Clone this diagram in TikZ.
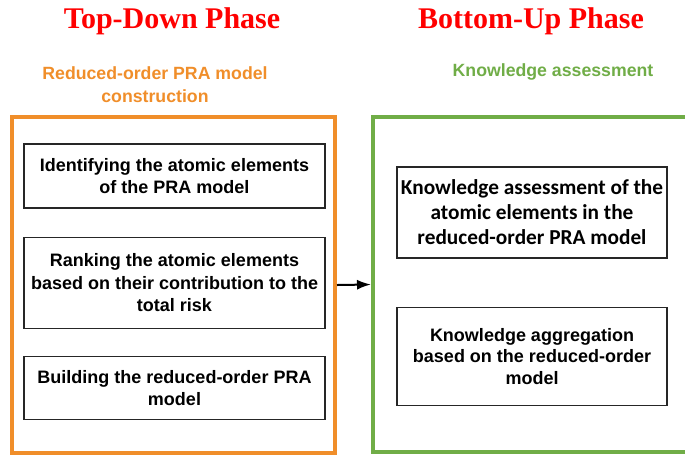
\documentclass[tikz,border=0pt]{standalone}
\usepackage{fontspec}
\setmainfont{Liberation Serif}
\setsansfont{Liberation Sans}
\newfontfamily\calibrifont{Carlito}
\usetikzlibrary{arrows,arrows.meta,positioning,shapes,fit}
\definecolor{phasered}{RGB}{255,0,0}
\definecolor{tdorange}{RGB}{240,142,42}
\definecolor{bugreen}{RGB}{112,173,71}

\begin{document}
\begin{tikzpicture}[x=1pt, y=-1pt,
	phase/.style={font=\fontsize{30}{35}\selectfont\bfseries, text=phasered},
	heading/.style={font=\fontsize{17.7}{23}\selectfont\bfseries\sffamily, align=center},
	frame/.style={draw, line width=4pt, inner sep=0pt},
	task/.style={draw=black!85, line width=1.3pt, align=center, inner sep=0pt,
		font=\fontsize{18}{22.5}\selectfont\bfseries\sffamily}]
						\useasboundingbox (0,0) rectangle (685,456);

						\node[phase] (td) at (172,21) {Top-Down Phase};
						\node[phase] (bu) at (531,21) {Bottom-Up Phase};
						\node[heading, text=tdorange] (tdhead) at (155,85) {Reduced-order PRA model\\construction};
						\node[heading, text=bugreen] (buhead) at (553,72) {Knowledge assessment};

						\node[frame, draw=tdorange, minimum width=323pt, minimum height=336pt] (tdbox) at (173.5,285) {};
						\node[frame, draw=bugreen, minimum width=320pt, minimum height=335pt] (bubox) at (533,284.5) {};

						\node[task, minimum width=301pt, minimum height=64pt] (ident) at (174.5,176) {Identifying the atomic elements\\of the PRA model};
						\node[task, minimum width=301pt, minimum height=91pt] (rank) [below=28pt of ident] {Ranking the atomic elements\\based on their contribution to the\\total risk};
						\node[task, minimum width=301pt, minimum height=63pt] (build) [below=27pt of rank] {Building the reduced-order PRA\\model};

						\node[task, minimum width=270pt, minimum height=91pt, font=\fontsize{21.3}{25}\selectfont\bfseries\calibrifont] (assess) at (532,212.5) {Knowledge assessment of the\\atomic elements in the\\reduced-order PRA model};
						\node[task, minimum width=270pt, minimum height=98pt, font=\fontsize{18}{21.5}\selectfont\bfseries\sffamily] (aggr) [below=48pt of assess] {Knowledge aggregation\\based on the reduced-order\\model};

						\draw[-{Latex[length=14pt,width=10pt]}, line width=2pt] (tdbox.east) -- (bubox.west);
					\end{tikzpicture}
\end{document}
